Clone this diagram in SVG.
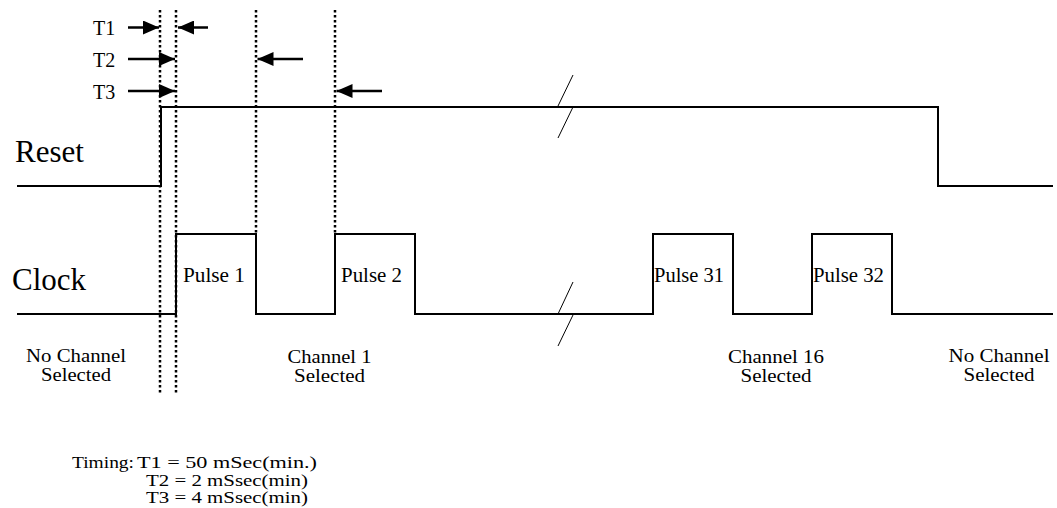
<svg xmlns="http://www.w3.org/2000/svg" width="1057" height="508" viewBox="0 0 1057 508">
<style>
text{font-family:"Liberation Serif","Times New Roman",serif;fill:#000}
.big{font-size:31px}
.t{font-size:20px}
.p{font-size:20px}
.c{font-size:19px;text-anchor:middle}
.tm{font-size:17px}
.sig{fill:none;stroke:#000;stroke-width:2}
.dot{fill:none;stroke:#000;stroke-width:2.5;stroke-dasharray:2.5 2.5}
.brk{fill:none;stroke:#000;stroke-width:1}
.arr{fill:none;stroke:#000;stroke-width:2.5}
</style>
<defs>
<marker id="ah" viewBox="0 0 16 14" refX="16" refY="7" markerWidth="16" markerHeight="14" markerUnits="userSpaceOnUse" orient="auto">
<path d="M0,0 L16,7 L0,14 Z" fill="#000"/>
</marker>
</defs>
<rect width="1057" height="508" fill="#fff"/>
<g id="dotted-lines">
<line class="dot" x1="160" y1="10" x2="160" y2="394"/>
<line class="dot" x1="176" y1="10" x2="176" y2="394"/>
<line class="dot" x1="256" y1="10" x2="256" y2="234"/>
<line class="dot" x1="335" y1="10" x2="335" y2="234"/>
</g>
<g id="reset-signal">
<polyline class="sig" points="17,186 161,186 161,107 938,107 938,186 1053,186"/>
<line class="brk" x1="558" y1="106" x2="573" y2="75"/>
<line class="brk" x1="573" y1="107" x2="558" y2="138"/>
<text class="big" x="15" y="162">Reset</text>
</g>
<g id="clock-signal">
<polyline class="sig" points="17,314 176,314 176,234 256,234 256,314 335,314 335,234 415,234 415,314 653,314 653,234 733,234 733,314 812,314 812,234 892,234 892,314 1053,314"/>
<line class="brk" x1="558" y1="314" x2="573" y2="282"/>
<line class="brk" x1="573" y1="315" x2="558" y2="346"/>
<text class="big" x="12" y="290">Clock</text>
</g>
<g id="pulse-labels">
<text class="p" x="183" y="282" textLength="62" lengthAdjust="spacingAndGlyphs">Pulse 1</text>
<text class="p" x="341" y="282" textLength="61" lengthAdjust="spacingAndGlyphs">Pulse 2</text>
<text class="p" x="654" y="282" textLength="70" lengthAdjust="spacingAndGlyphs">Pulse 31</text>
<text class="p" x="813" y="282" textLength="71" lengthAdjust="spacingAndGlyphs">Pulse 32</text>
</g>
<g id="channel-labels">
<text class="c" x="76" y="362" textLength="100" lengthAdjust="spacingAndGlyphs">No Channel</text>
<text class="c" x="76" y="381" textLength="70" lengthAdjust="spacingAndGlyphs">Selected</text>
<text class="c" x="329.5" y="363" textLength="84" lengthAdjust="spacingAndGlyphs">Channel 1</text>
<text class="c" x="329.5" y="382" textLength="71" lengthAdjust="spacingAndGlyphs">Selected</text>
<text class="c" x="776" y="363" textLength="96" lengthAdjust="spacingAndGlyphs">Channel 16</text>
<text class="c" x="776" y="382" textLength="71" lengthAdjust="spacingAndGlyphs">Selected</text>
<text class="c" x="999" y="362" textLength="101" lengthAdjust="spacingAndGlyphs">No Channel</text>
<text class="c" x="999" y="381" textLength="71" lengthAdjust="spacingAndGlyphs">Selected</text>
</g>
<g id="timing-labels">
<text class="t" x="93" y="35">T1</text>
<text class="t" x="93" y="67">T2</text>
<text class="t" x="93" y="99">T3</text>
</g>
<g id="connectors">
<line class="arr" x1="128" y1="27.5" x2="159" y2="27.5" marker-end="url(#ah)"/>
<line class="arr" x1="208" y1="27.5" x2="178" y2="27.5" marker-end="url(#ah)"/>
<line class="arr" x1="128" y1="59" x2="175" y2="59" marker-end="url(#ah)"/>
<line class="arr" x1="303" y1="59" x2="257.5" y2="59" marker-end="url(#ah)"/>
<line class="arr" x1="128" y1="91" x2="175" y2="91" marker-end="url(#ah)"/>
<line class="arr" x1="382" y1="91" x2="336.5" y2="91" marker-end="url(#ah)"/>
</g>
<g id="timing-note">
<text class="tm" x="72" y="468" textLength="62" lengthAdjust="spacingAndGlyphs">Timing:</text>
<text class="tm" x="137" y="468" textLength="180" lengthAdjust="spacingAndGlyphs">T1 = 50 mSec(min.)</text>
<text class="tm" x="146" y="485.5" textLength="162" lengthAdjust="spacingAndGlyphs">T2 = 2 mSsec(min)</text>
<text class="tm" x="146" y="503" textLength="162" lengthAdjust="spacingAndGlyphs">T3 = 4 mSsec(min)</text>
</g>
</svg>
